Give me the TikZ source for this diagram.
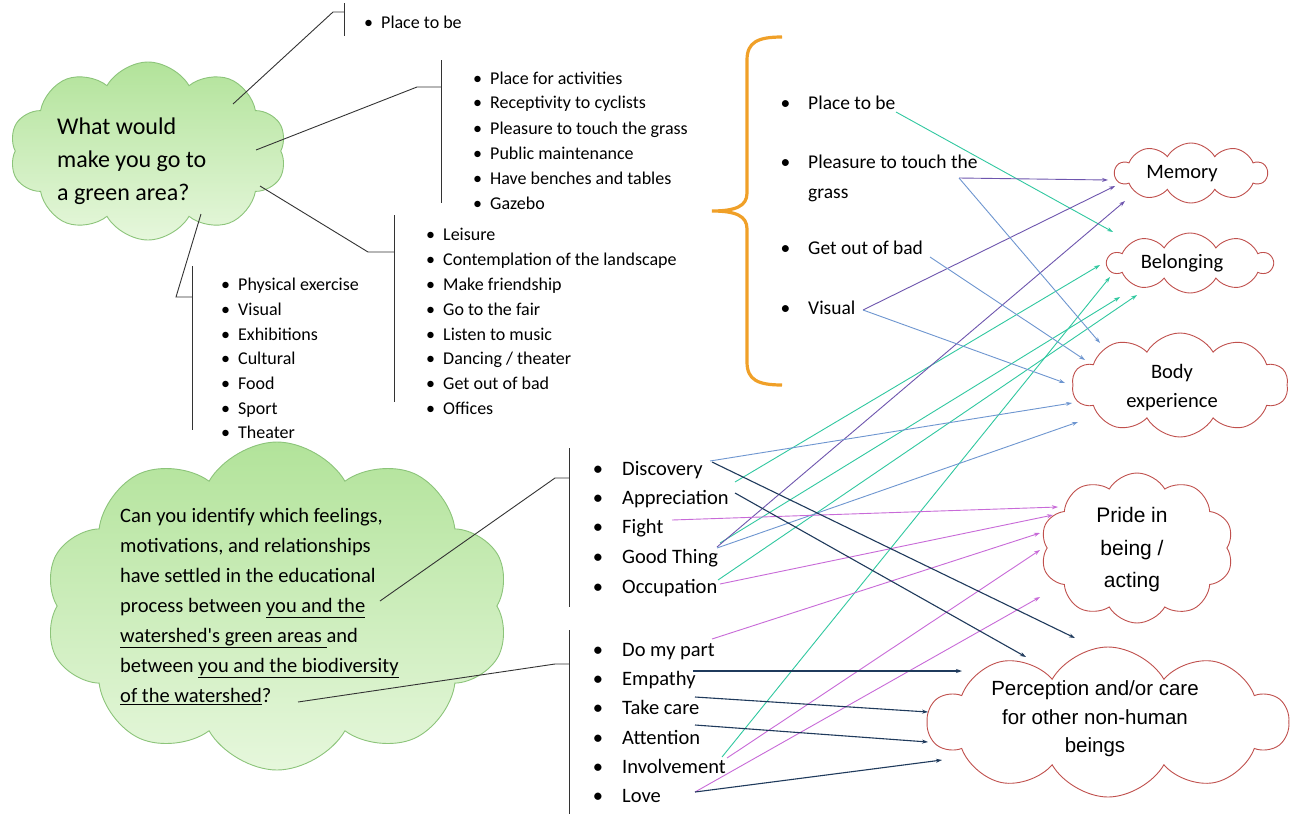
\documentclass[tikz,border=0pt]{standalone}
\usepackage{fontspec}
\setmainfont{Carlito}
\newfontfamily\arialf{Liberation Sans}
\usetikzlibrary{shapes.symbols,arrows.meta}
\definecolor{cteal}{HTML}{30C8A0}
\definecolor{cpurple}{HTML}{6E55AE}
\definecolor{cblue}{HTML}{6E96D0}
\definecolor{cmag}{HTML}{C86AD8}
\definecolor{cnavy}{HTML}{1F3A5C}
\definecolor{gtop}{HTML}{B2E39A}
\definecolor{gbot}{HTML}{E6F7DC}
\definecolor{gedge}{HTML}{8CC47A}
\definecolor{redge}{HTML}{C0504D}
\definecolor{cbrace}{HTML}{F0A028}
\newcommand{\blt}[1]{\llap{\textbullet\hspace{#1}}}
\begin{document}
\begin{tikzpicture}[x=1pt,y=-1pt,
  gcloud/.style={cloud, cloud puffs=10, cloud puff arc=120, cloud ignores aspect, draw=gedge, line width=0.9pt, top color=gtop, bottom color=gbot, inner sep=0pt},
  rcloud/.style={cloud, cloud puffs=10, cloud puff arc=120, cloud ignores aspect, draw=redge, line width=0.9pt, fill=white, inner sep=0pt},
  lsa/.style={anchor=base west, inner sep=0pt, font=\fontsize{18}{21}\selectfont},
  lsr/.style={anchor=base west, inner sep=0pt, font=\fontsize{19.5}{24}\selectfont},
  lsb/.style={anchor=base west, inner sep=0pt, font=\fontsize{20.5}{24}\selectfont},
  ctext/.style={inner sep=0pt, align=center, font=\fontsize{20.5}{29}\selectfont},
  atext/.style={inner sep=0pt, align=center, font=\arialf\fontsize{20.5}{30}\selectfont},
  brk/.style={line width=0.9pt, draw=black!80},
  con/.style={line width=0.9pt, -{Stealth[length=6pt,width=4pt]}},
]
\useasboundingbox[fill=white] (0,0) rectangle (1297,814);

% ---------- green clouds ----------
\node[gcloud, minimum width=277, minimum height=178] (q1) at (148,151) {};
\node[anchor=north west, inner sep=0pt, align=left, font=\fontsize{24}{33}\selectfont] (q1t) at (57,118)
  {What would\\make you go to\\a green area?};
\node[gcloud, minimum width=465, minimum height=328] (q2) at (277,606) {};
\node[anchor=north west, inner sep=0pt, align=left, font=\fontsize{20.5}{30}\selectfont] (q2t) at (120,508)
  {Can you identify which feelings,\\
   motivations, and relationships\\
   have settled in the educational\\
   process between \underline{you and the}\\
   \underline{watershed\textquotesingle s green areas }and\\
   between \underline{you and the biodiversity}\\
   \underline{of the watershed}?};

% ---------- left lists ----------
\node[lsa] (a1) at (381,28) {\blt{8pt}Place to be};

\node[lsa] (b1) at (490,84) {\blt{8pt}Place for activities};
\node[lsa] (b2) at (490,108) {\blt{8pt}Receptivity to cyclists};
\node[lsa] (b3) at (490,134) {\blt{8pt}Pleasure to touch the grass};
\node[lsa] (b4) at (490,159) {\blt{8pt}Public maintenance};
\node[lsa] (b5) at (490,184) {\blt{8pt}Have benches and tables};
\node[lsa] (b6) at (490,209) {\blt{8pt}Gazebo};

\node[lsa] (c1) at (443,240) {\blt{8pt}Leisure};
\node[lsa] (c2) at (443,265) {\blt{8pt}Contemplation of the landscape};
\node[lsa] (c3) at (443,290) {\blt{8pt}Make friendship};
\node[lsa] (c4) at (443,315) {\blt{8pt}Go to the fair};
\node[lsa] (c5) at (443,340) {\blt{8pt}Listen to music};
\node[lsa] (c6) at (443,364) {\blt{8pt}Dancing / theater};
\node[lsa] (c7) at (443,389) {\blt{8pt}Get out of bad};
\node[lsa] (c8) at (443,414) {\blt{8pt}Offices};

\node[lsa] (d1) at (238,290) {\blt{8pt}Physical exercise};
\node[lsa] (d2) at (238,315) {\blt{8pt}Visual};
\node[lsa] (d3) at (238,340) {\blt{8pt}Exhibitions};
\node[lsa] (d4) at (238,364) {\blt{8pt}Cultural};
\node[lsa] (d5) at (238,389) {\blt{8pt}Food};
\node[lsa] (d6) at (238,414) {\blt{8pt}Sport};
\node[lsa] (d7) at (238,438) {\blt{8pt}Theater};

% brackets
\coordinate (a-v1) at (344,3);   \coordinate (a-v2) at (344,36);
\coordinate (a-e) at (333,12);   \coordinate (a-h) at (344,12);  \coordinate (a-q) at (233,104);
\draw[brk] (a-v1) -- (a-v2);  \draw[brk] (a-q) -- (a-e) -- (a-h);
\coordinate (b-v1) at (441,60);  \coordinate (b-v2) at (441,203);
\coordinate (b-e) at (417,87);   \coordinate (b-h) at (441,87);  \coordinate (b-q) at (256,150);
\draw[brk] (b-v1) -- (b-v2);  \draw[brk] (b-q) -- (b-e) -- (b-h);
\coordinate (c-v1) at (394,215); \coordinate (c-v2) at (394,402);
\coordinate (c-e) at (368,252);  \coordinate (c-h) at (394,252); \coordinate (c-q) at (260,186);
\draw[brk] (c-v1) -- (c-v2);  \draw[brk] (c-q) -- (c-e) -- (c-h);
\coordinate (d-v1) at (192,266); \coordinate (d-v2) at (192,430);
\coordinate (d-e) at (176,297);  \coordinate (d-h) at (192,297); \coordinate (d-q) at (201,214);
\draw[brk] (d-v1) -- (d-v2);  \draw[brk] (d-q) -- (d-e) -- (d-h);

% ---------- orange brace ----------
\coordinate (br-t) at (782,37); \coordinate (br-m) at (712,211); \coordinate (br-b) at (782,385);
\draw[cbrace, line width=3.2pt] (br-t) .. controls (758,37) and (747,42) .. (747,60) -- (747,193)
  .. controls (747,206) and (736,211) .. (br-m) .. controls (736,211) and (747,216) .. (747,229)
  -- (747,362) .. controls (747,380) and (758,385) .. (br-b);

% ---------- right list ----------
\node[lsr] (r1) at (808,109) {\blt{18pt}Place to be};
\node[lsr] (r2) at (808,168) {\blt{18pt}Pleasure to touch the};
\node[lsr] (r2b) at (808,198) {grass};
\node[lsr] (r3) at (808,254) {\blt{18pt}Get out of bad};
\node[lsr] (r4) at (808,314) {\blt{18pt}Visual};

% ---------- bottom lists ----------
\node[lsb] (s1) at (622,475) {\blt{19pt}Discovery};
\node[lsb] (s2) at (622,504) {\blt{19pt}Appreciation};
\node[lsb] (s3) at (622,533) {\blt{19pt}Fight};
\node[lsb] (s4) at (622,563) {\blt{19pt}Good Thing};
\node[lsb] (s5) at (622,593) {\blt{19pt}Occupation};

\node[lsb] (u1) at (622,656) {\blt{19pt}Do my part};
\node[lsb] (u2) at (622,685) {\blt{19pt}Empathy};
\node[lsb] (u3) at (622,714) {\blt{19pt}Take care};
\node[lsb] (u4) at (622,744) {\blt{19pt}Attention};
\node[lsb] (u5) at (622,773) {\blt{19pt}Involvement};
\node[lsb] (u6) at (622,802) {\blt{19pt}Love};

\coordinate (s-v1) at (569,448); \coordinate (s-v2) at (569,607);
\coordinate (s-e) at (555,478);  \coordinate (s-h) at (569,478); \coordinate (s-q) at (380,601);
\draw[brk] (s-v1) -- (s-v2);  \draw[brk] (s-q) -- (s-e) -- (s-h);
\coordinate (u-v1) at (569,630); \coordinate (u-v2) at (569,814);
\coordinate (u-e) at (555,664);  \coordinate (u-h) at (569,664); \coordinate (u-q) at (298,702);
\draw[brk] (u-v1) -- (u-v2);  \draw[brk] (u-q) -- (u-e) -- (u-h);

% ---------- red clouds ----------
\node[rcloud, minimum width=152, minimum height=60] (mem) at (1191,173) {};
\node[ctext] (memt) at (1182,174) {Memory};
\node[rcloud, minimum width=165, minimum height=60] (bel) at (1190,263) {};
\node[ctext] (belt) at (1182,263) {Belonging};
\node[rcloud, minimum width=216, minimum height=104] (bod) at (1180,385) {};
\node[ctext] (bodt) at (1172,388) {Body\\experience};
\node[rcloud, minimum width=193, minimum height=150] (pri) at (1137,548) {};
\node[atext, font=\arialf\fontsize{21}{32.5}\selectfont] (prit) at (1132,550) {Pride in\\being /\\acting};
\node[rcloud, minimum width=360, minimum height=150] (per) at (1108,722) {};
\node[atext, font=\arialf\fontsize{20.5}{28.5}\selectfont] (pert) at (1095,719) {Perception and/or care\\for other non-human\\beings};

% ---------- connector end points ----------
% teal
\coordinate (t1s) at (896,112); \coordinate (t1e) at (1113,232);
\coordinate (t2s) at (735,482); \coordinate (t2e) at (1100,265);
\coordinate (t3s) at (720,543); \coordinate (t3e) at (1120,297);
\coordinate (t4s) at (718,580); \coordinate (t4e) at (1137,295);
\coordinate (t5s) at (722,757); \coordinate (t5e) at (1110,277);
% purple
\coordinate (p1s) at (959,178); \coordinate (p1e) at (1108,180);
\coordinate (p2s) at (863,310); \coordinate (p2e) at (1115,186);
\coordinate (p3s) at (717,547); \coordinate (p3e) at (1125,201);
% blue
\coordinate (b1s) at (959,178); \coordinate (b1e) at (1100,343);
\coordinate (b2s) at (930,257); \coordinate (b2e) at (1085,360);
\coordinate (b3s) at (863,310); \coordinate (b3e) at (1065,383);
\coordinate (b4s) at (710,461); \coordinate (b4e) at (1072,403);
\coordinate (b5s) at (717,548); \coordinate (b5e) at (1078,422);
% magenta
\coordinate (m1s) at (672,520); \coordinate (m1e) at (1058,507);
\coordinate (m2s) at (720,584); \coordinate (m2e) at (1053,515);
\coordinate (m3s) at (712,639); \coordinate (m3e) at (1040,533);
\coordinate (m4s) at (727,758); \coordinate (m4e) at (1040,550);
\coordinate (m5s) at (695,792); \coordinate (m5e) at (1040,597);
% navy
\coordinate (n1s) at (712,462); \coordinate (n1e) at (1075,638);
\coordinate (n2s) at (735,493); \coordinate (n2e) at (1026,657);
\coordinate (n3s) at (693,671); \coordinate (n3e) at (962,671);
\coordinate (n4s) at (695,697); \coordinate (n4e) at (928,712);
\coordinate (n5s) at (695,725); \coordinate (n5e) at (928,742);
\coordinate (n6s) at (695,792); \coordinate (n6e) at (942,760);

\foreach \i in {1,...,5} \draw[con, cteal] (t\i s) -- (t\i e);
\foreach \i in {1,2,3} \draw[con, cpurple] (p\i s) -- (p\i e);
\foreach \i in {1,...,5} \draw[con, cblue] (b\i s) -- (b\i e);
\foreach \i in {1,...,5} \draw[con, cmag] (m\i s) -- (m\i e);
\foreach \i in {1,...,6} \draw[con, cnavy, line width=1.1pt] (n\i s) -- (n\i e);
\end{tikzpicture}
\end{document}
